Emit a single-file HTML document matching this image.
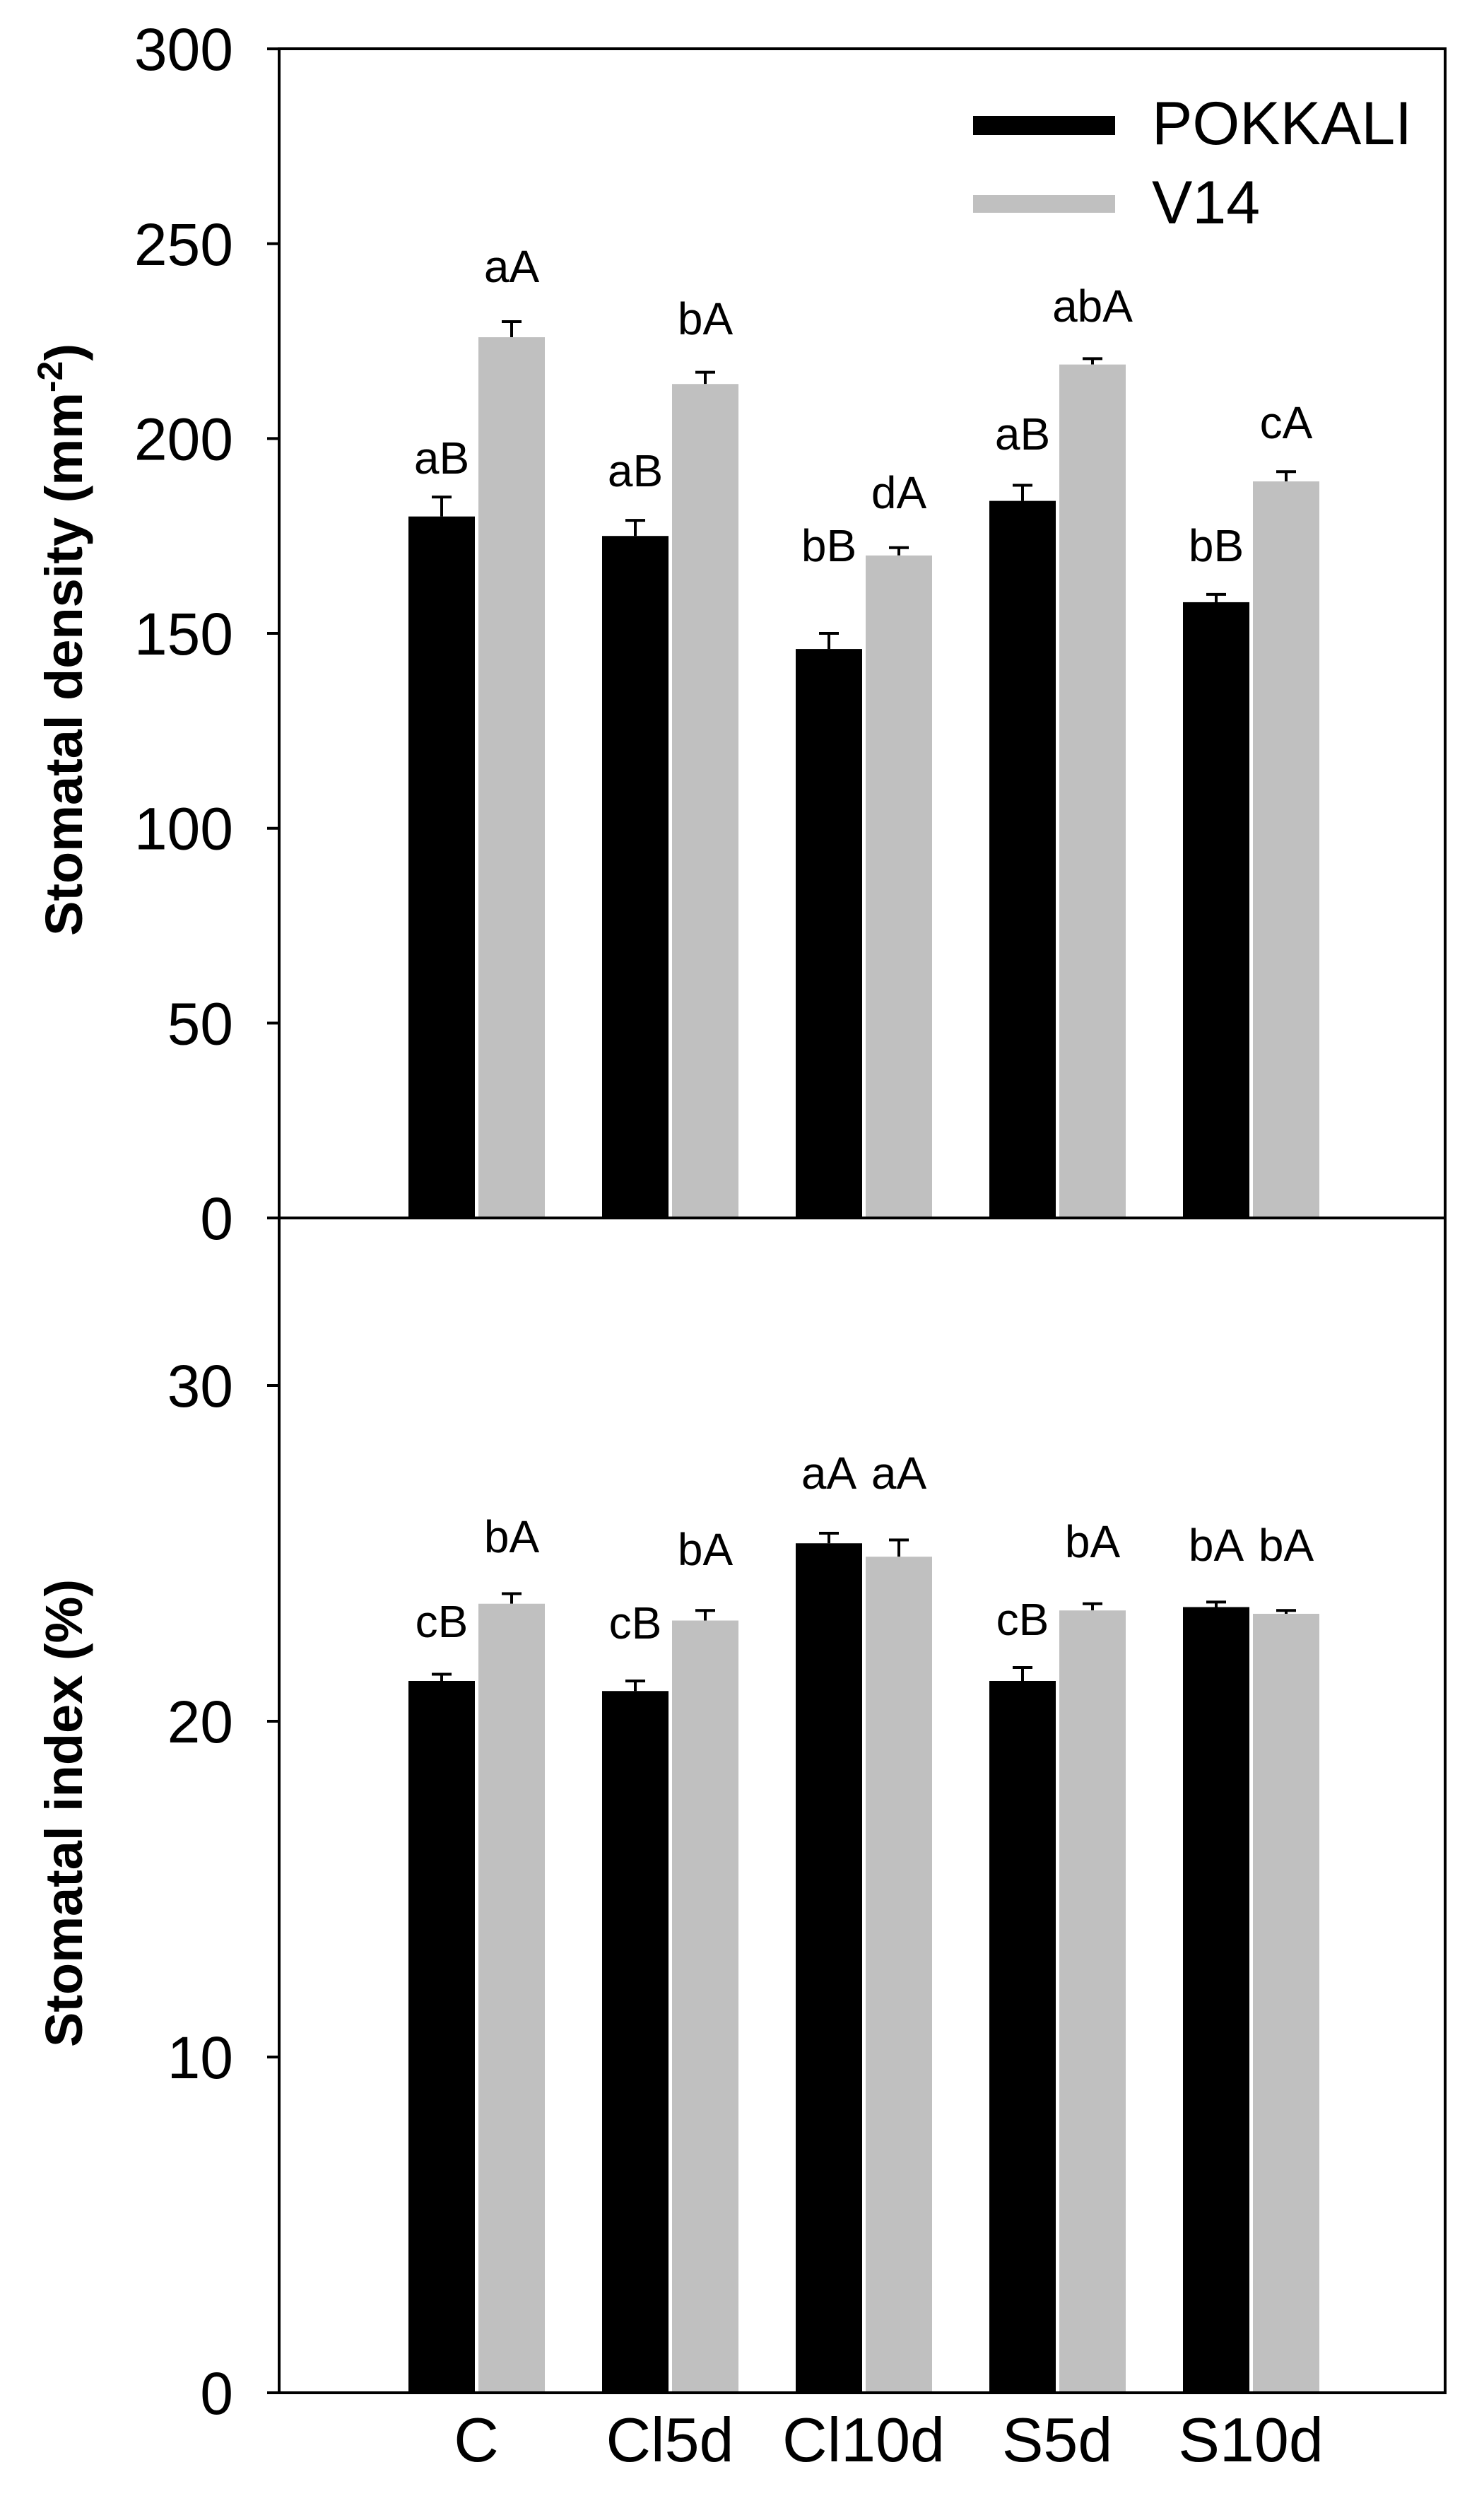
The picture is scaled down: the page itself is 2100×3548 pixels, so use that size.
<!DOCTYPE html>
<html><head><meta charset="utf-8"><style>html,body{margin:0;padding:0;background:#fff}svg{display:block}</style></head>
<body>
<svg xmlns="http://www.w3.org/2000/svg" width="2100" height="3548" viewBox="0 0 2100 3548" font-family="Liberation Sans, Arial, sans-serif">
<rect width="2100" height="3548" fill="#fff"/>
<g id="bars"></g>
<script>
(function(){
var ns="http://www.w3.org/2000/svg",g=document.getElementById('bars');
function el(t,a,txt){var e=document.createElementNS(ns,t);for(var k in a)e.setAttribute(k,a[k]);if(txt)e.textContent=txt;g.appendChild(e);return e;}
var starts=[578,852,1126,1400,1674],bw=94,gap=5;
var T0=1723,Ts=5.513;
var top=[[180,5,226,4],[175,4,214,3],[146,4,170,2],[184,4,219,1.5],[158,2,189,2.5]];
var topLab=[["aB",670,"aA",399],["aB",688,"bA",473],["bB",794,"dA",719],["aB",636,"abA",455],["bB",794,"cA",620]];
var B0=3385,Bs=47.5;
var bot=[[21.2,.2,23.5,.3],[20.9,.3,23.0,.3],[25.3,.3,24.9,.5],[21.2,.4,23.3,.2],[23.4,.15,23.2,.1]];
var botLab=[["cB",2316,"bA",2196],["cB",2318,"bA",2214],["aA",2106,"aA",2106],["cB",2313,"bA",2203],["bA",2208,"bA",2208]];
function bars(data,labs,z,s){
 for(var i=0;i<5;i++){
  var d=data[i];
  for(var j=0;j<2;j++){
   var x=starts[i]+j*(bw+gap),v=d[j*2],e=d[j*2+1],y=z-v*s,ey=z-(v+e)*s,cx=x+bw/2;
   el('line',{x1:cx,y1:y,x2:cx,y2:ey,stroke:'#000','stroke-width':4});
   el('line',{x1:cx-14,y1:ey,x2:cx+14,y2:ey,stroke:'#000','stroke-width':4});
   el('rect',{x:x,y:y,width:bw,height:z-y,fill:j?'#c0c0c0':'#000'});
   el('text',{x:cx,y:labs[i][j*2+1],'font-size':64,'text-anchor':'middle',fill:'#000'},labs[i][j*2]);
  }
 }
}
bars(top,topLab,T0,Ts);bars(bot,botLab,B0,Bs);
el('rect',{x:395,y:69,width:1650,height:T0-69,fill:'none',stroke:'#000','stroke-width':4});
el('rect',{x:395,y:T0,width:1650,height:B0-T0,fill:'none',stroke:'#000','stroke-width':4});
for(var v=0;v<=300;v+=50){var y=T0-v*Ts;el('line',{x1:378,y1:y,x2:395,y2:y,stroke:'#000','stroke-width':4});el('text',{x:330,y:y+30,'font-size':84,'text-anchor':'end'},String(v));}
for(var v=0;v<=30;v+=10){var y=B0-v*Bs;el('line',{x1:378,y1:y,x2:395,y2:y,stroke:'#000','stroke-width':4});el('text',{x:330,y:y+30,'font-size':84,'text-anchor':'end'},String(v));}
var xl=["C","Cl5d","Cl10d","S5d","S10d"];
for(var i=0;i<5;i++){el('text',{x:starts[i]+bw+2,y:3482,'font-size':88,'text-anchor':'middle'},xl[i]);}
el('rect',{x:1377,y:164,width:201,height:27,fill:'#000'});
el('rect',{x:1377,y:276,width:201,height:25,fill:'#c0c0c0'});
el('text',{x:1630,y:204,'font-size':86},"POKKALI");
el('text',{x:1630,y:316,'font-size':86},"V14");
var t1=el('text',{x:0,y:0,'font-size':74,'font-weight':'bold','text-anchor':'middle',transform:'translate(116,905) rotate(-90)'},"");
t1.appendChild(document.createTextNode("Stomatal density (mm"));
var sp=document.createElementNS(ns,'tspan');sp.setAttribute('dy','-28');sp.setAttribute('font-size','50');sp.textContent="-2";t1.appendChild(sp);
var sp2=document.createElementNS(ns,'tspan');sp2.setAttribute('dy','28');sp2.textContent=")";t1.appendChild(sp2);
el('text',{x:0,y:0,'font-size':74,'font-weight':'bold','text-anchor':'middle',transform:'translate(116,2565) rotate(-90)'},"Stomatal index (%)");
})();
</script>
</svg>
</body></html>
